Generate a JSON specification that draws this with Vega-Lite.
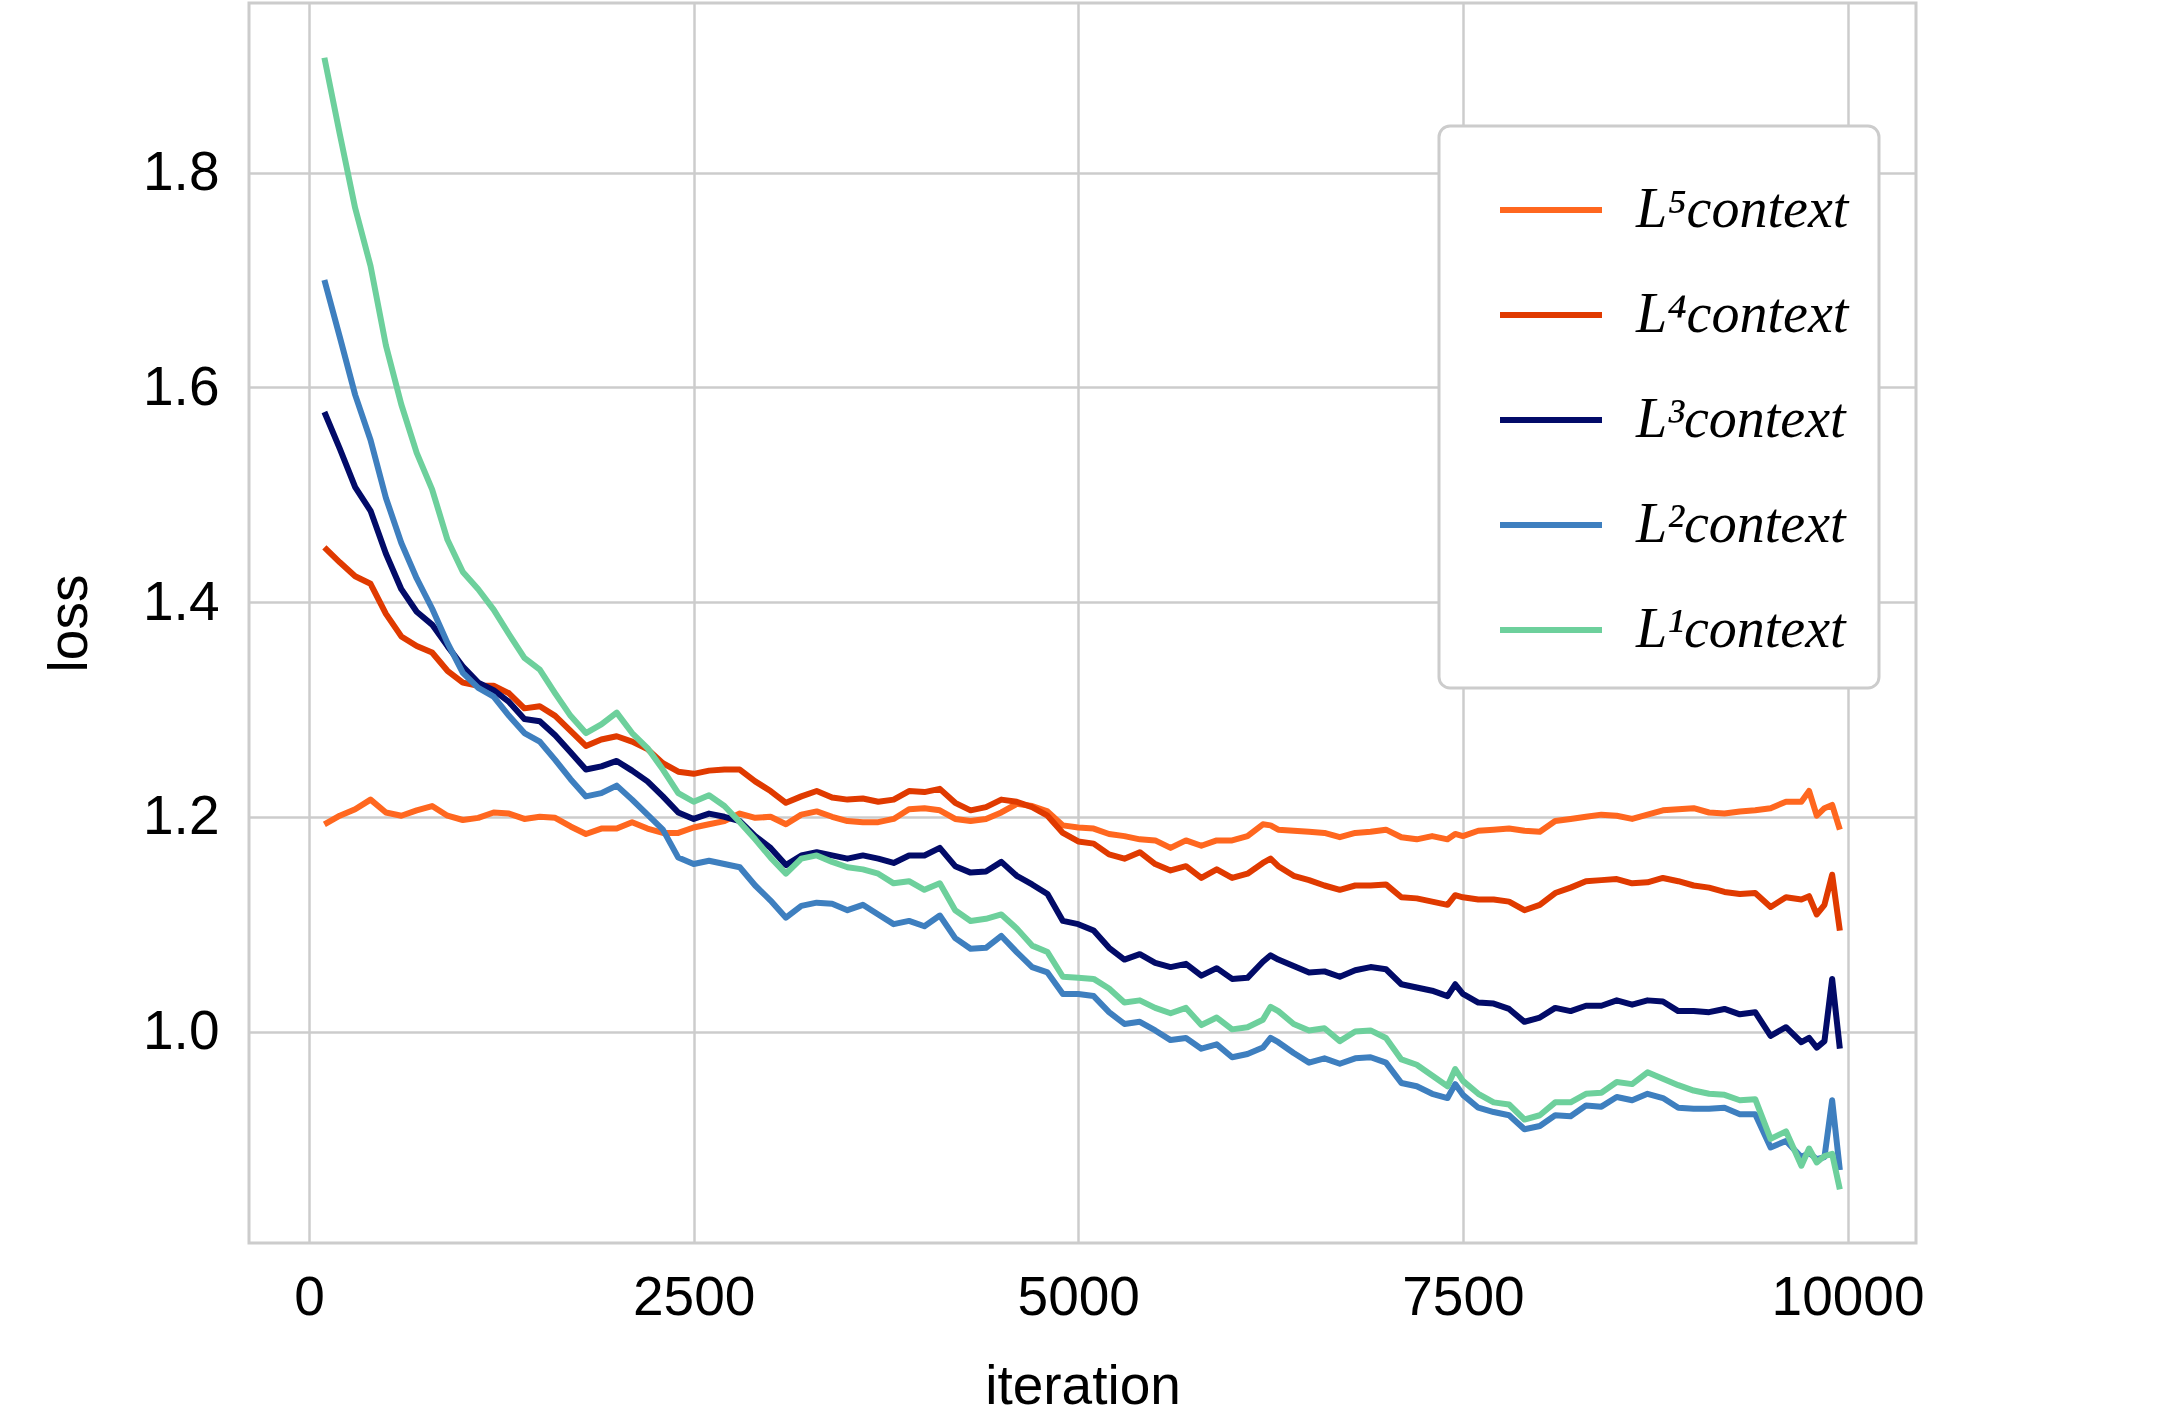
{
  "$schema": "https://vega.github.io/schema/vega-lite/v6.json",
  "width": 1667,
  "height": 1240,
  "autosize": {"type": "none"},
  "padding": {"left": 249, "top": 3, "right": 252, "bottom": 172},
  "background": "white",
  "config": {
    "view": {"stroke": "#cccccc", "strokeWidth": 3},
    "axis": {
      "gridColor": "#cccccc",
      "gridWidth": 2.5,
      "domain": false,
      "ticks": false,
      "labelFont": "Liberation Sans",
      "labelFontSize": 55,
      "labelColor": "black",
      "titleFont": "Liberation Sans",
      "titleFontSize": 55,
      "titleFontWeight": "normal",
      "titleColor": "black"
    },
    "legend": {"strokeWidth": 3}
  },
  "data": {
    "values": [
      {"i": 100, "L5": 1.193, "L4": 1.451, "L3": 1.577, "L2": 1.700, "L1": 1.907},
      {"i": 200, "L5": 1.201, "L4": 1.437, "L3": 1.543, "L2": 1.647, "L1": 1.836},
      {"i": 300, "L5": 1.207, "L4": 1.424, "L3": 1.507, "L2": 1.593, "L1": 1.767},
      {"i": 400, "L5": 1.216, "L4": 1.417, "L3": 1.485, "L2": 1.551, "L1": 1.713},
      {"i": 500, "L5": 1.204, "L4": 1.389, "L3": 1.445, "L2": 1.497, "L1": 1.639},
      {"i": 600, "L5": 1.201, "L4": 1.368, "L3": 1.412, "L2": 1.455, "L1": 1.584},
      {"i": 700, "L5": 1.206, "L4": 1.359, "L3": 1.391, "L2": 1.422, "L1": 1.539},
      {"i": 800, "L5": 1.210, "L4": 1.353, "L3": 1.379, "L2": 1.394, "L1": 1.505},
      {"i": 900, "L5": 1.201, "L4": 1.336, "L3": 1.359, "L2": 1.362, "L1": 1.458},
      {"i": 1000, "L5": 1.197, "L4": 1.325, "L3": 1.340, "L2": 1.334, "L1": 1.428},
      {"i": 1100, "L5": 1.199, "L4": 1.322, "L3": 1.325, "L2": 1.320, "L1": 1.412},
      {"i": 1200, "L5": 1.204, "L4": 1.322, "L3": 1.318, "L2": 1.312, "L1": 1.393},
      {"i": 1300, "L5": 1.203, "L4": 1.315, "L3": 1.307, "L2": 1.294, "L1": 1.370},
      {"i": 1400, "L5": 1.198, "L4": 1.301, "L3": 1.291, "L2": 1.278, "L1": 1.348},
      {"i": 1500, "L5": 1.200, "L4": 1.303, "L3": 1.289, "L2": 1.270, "L1": 1.337},
      {"i": 1600, "L5": 1.199, "L4": 1.294, "L3": 1.276, "L2": 1.253, "L1": 1.315},
      {"i": 1700, "L5": 1.191, "L4": 1.280, "L3": 1.260, "L2": 1.235, "L1": 1.294},
      {"i": 1800, "L5": 1.184, "L4": 1.266, "L3": 1.244, "L2": 1.219, "L1": 1.278},
      {"i": 1900, "L5": 1.189, "L4": 1.272, "L3": 1.247, "L2": 1.222, "L1": 1.286},
      {"i": 2000, "L5": 1.189, "L4": 1.275, "L3": 1.252, "L2": 1.229, "L1": 1.297},
      {"i": 2100, "L5": 1.195, "L4": 1.270, "L3": 1.243, "L2": 1.216, "L1": 1.278},
      {"i": 2200, "L5": 1.189, "L4": 1.263, "L3": 1.233, "L2": 1.202, "L1": 1.264},
      {"i": 2300, "L5": 1.185, "L4": 1.250, "L3": 1.219, "L2": 1.188, "L1": 1.244},
      {"i": 2400, "L5": 1.185, "L4": 1.242, "L3": 1.204, "L2": 1.162, "L1": 1.222},
      {"i": 2500, "L5": 1.190, "L4": 1.240, "L3": 1.198, "L2": 1.156, "L1": 1.214},
      {"i": 2600, "L5": 1.193, "L4": 1.243, "L3": 1.203, "L2": 1.159, "L1": 1.220},
      {"i": 2700, "L5": 1.196, "L4": 1.244, "L3": 1.200, "L2": 1.156, "L1": 1.210},
      {"i": 2800, "L5": 1.203, "L4": 1.244, "L3": 1.196, "L2": 1.153, "L1": 1.195},
      {"i": 2900, "L5": 1.199, "L4": 1.233, "L3": 1.182, "L2": 1.136, "L1": 1.179},
      {"i": 3000, "L5": 1.200, "L4": 1.224, "L3": 1.171, "L2": 1.122, "L1": 1.162},
      {"i": 3100, "L5": 1.193, "L4": 1.213, "L3": 1.155, "L2": 1.106, "L1": 1.147},
      {"i": 3200, "L5": 1.202, "L4": 1.219, "L3": 1.164, "L2": 1.117, "L1": 1.161},
      {"i": 3300, "L5": 1.205, "L4": 1.224, "L3": 1.167, "L2": 1.120, "L1": 1.164},
      {"i": 3400, "L5": 1.200, "L4": 1.218, "L3": 1.164, "L2": 1.119, "L1": 1.158},
      {"i": 3500, "L5": 1.196, "L4": 1.216, "L3": 1.161, "L2": 1.113, "L1": 1.153},
      {"i": 3600, "L5": 1.195, "L4": 1.217, "L3": 1.164, "L2": 1.118, "L1": 1.151},
      {"i": 3700, "L5": 1.195, "L4": 1.214, "L3": 1.161, "L2": 1.109, "L1": 1.147},
      {"i": 3800, "L5": 1.198, "L4": 1.216, "L3": 1.157, "L2": 1.100, "L1": 1.138},
      {"i": 3900, "L5": 1.207, "L4": 1.224, "L3": 1.164, "L2": 1.103, "L1": 1.140},
      {"i": 4000, "L5": 1.208, "L4": 1.223, "L3": 1.164, "L2": 1.098, "L1": 1.132},
      {"i": 4100, "L5": 1.206, "L4": 1.226, "L3": 1.171, "L2": 1.108, "L1": 1.138},
      {"i": 4200, "L5": 1.198, "L4": 1.213, "L3": 1.154, "L2": 1.087, "L1": 1.113},
      {"i": 4300, "L5": 1.196, "L4": 1.206, "L3": 1.148, "L2": 1.077, "L1": 1.103},
      {"i": 4400, "L5": 1.198, "L4": 1.209, "L3": 1.149, "L2": 1.078, "L1": 1.105},
      {"i": 4500, "L5": 1.204, "L4": 1.216, "L3": 1.158, "L2": 1.089, "L1": 1.109},
      {"i": 4600, "L5": 1.212, "L4": 1.214, "L3": 1.145, "L2": 1.074, "L1": 1.096},
      {"i": 4700, "L5": 1.210, "L4": 1.209, "L3": 1.137, "L2": 1.060, "L1": 1.080},
      {"i": 4800, "L5": 1.205, "L4": 1.201, "L3": 1.128, "L2": 1.055, "L1": 1.074},
      {"i": 4900, "L5": 1.192, "L4": 1.185, "L3": 1.103, "L2": 1.035, "L1": 1.051},
      {"i": 5000, "L5": 1.190, "L4": 1.177, "L3": 1.100, "L2": 1.035, "L1": 1.050},
      {"i": 5100, "L5": 1.189, "L4": 1.175, "L3": 1.094, "L2": 1.033, "L1": 1.049},
      {"i": 5200, "L5": 1.184, "L4": 1.165, "L3": 1.078, "L2": 1.018, "L1": 1.040},
      {"i": 5300, "L5": 1.182, "L4": 1.161, "L3": 1.067, "L2": 1.007, "L1": 1.027},
      {"i": 5400, "L5": 1.179, "L4": 1.167, "L3": 1.072, "L2": 1.009, "L1": 1.029},
      {"i": 5500, "L5": 1.178, "L4": 1.156, "L3": 1.064, "L2": 1.001, "L1": 1.022},
      {"i": 5600, "L5": 1.171, "L4": 1.150, "L3": 1.060, "L2": 0.992, "L1": 1.017},
      {"i": 5700, "L5": 1.178, "L4": 1.154, "L3": 1.063, "L2": 0.994, "L1": 1.022},
      {"i": 5800, "L5": 1.173, "L4": 1.143, "L3": 1.052, "L2": 0.984, "L1": 1.006},
      {"i": 5900, "L5": 1.178, "L4": 1.151, "L3": 1.059, "L2": 0.988, "L1": 1.013},
      {"i": 6000, "L5": 1.178, "L4": 1.143, "L3": 1.049, "L2": 0.976, "L1": 1.002},
      {"i": 6100, "L5": 1.182, "L4": 1.147, "L3": 1.050, "L2": 0.979, "L1": 1.004},
      {"i": 6200, "L5": 1.193, "L4": 1.157, "L3": 1.065, "L2": 0.985, "L1": 1.011},
      {"i": 6250, "L5": 1.192, "L4": 1.161, "L3": 1.071, "L2": 0.994, "L1": 1.023},
      {"i": 6300, "L5": 1.188, "L4": 1.154, "L3": 1.067, "L2": 0.990, "L1": 1.019},
      {"i": 6400, "L5": 1.187, "L4": 1.145, "L3": 1.061, "L2": 0.980, "L1": 1.007},
      {"i": 6500, "L5": 1.186, "L4": 1.141, "L3": 1.055, "L2": 0.971, "L1": 1.001},
      {"i": 6600, "L5": 1.185, "L4": 1.136, "L3": 1.056, "L2": 0.975, "L1": 1.003},
      {"i": 6700, "L5": 1.181, "L4": 1.132, "L3": 1.051, "L2": 0.970, "L1": 0.991},
      {"i": 6800, "L5": 1.185, "L4": 1.136, "L3": 1.057, "L2": 0.975, "L1": 1.000},
      {"i": 6900, "L5": 1.186, "L4": 1.136, "L3": 1.060, "L2": 0.976, "L1": 1.001},
      {"i": 7000, "L5": 1.188, "L4": 1.137, "L3": 1.058, "L2": 0.971, "L1": 0.994},
      {"i": 7100, "L5": 1.181, "L4": 1.125, "L3": 1.044, "L2": 0.952, "L1": 0.974},
      {"i": 7200, "L5": 1.179, "L4": 1.124, "L3": 1.041, "L2": 0.949, "L1": 0.969},
      {"i": 7300, "L5": 1.182, "L4": 1.121, "L3": 1.038, "L2": 0.942, "L1": 0.959},
      {"i": 7400, "L5": 1.179, "L4": 1.118, "L3": 1.033, "L2": 0.938, "L1": 0.949},
      {"i": 7450, "L5": 1.184, "L4": 1.127, "L3": 1.044, "L2": 0.951, "L1": 0.965},
      {"i": 7500, "L5": 1.182, "L4": 1.125, "L3": 1.035, "L2": 0.941, "L1": 0.954},
      {"i": 7600, "L5": 1.187, "L4": 1.123, "L3": 1.027, "L2": 0.929, "L1": 0.942},
      {"i": 7700, "L5": 1.188, "L4": 1.123, "L3": 1.026, "L2": 0.925, "L1": 0.934},
      {"i": 7800, "L5": 1.189, "L4": 1.121, "L3": 1.021, "L2": 0.922, "L1": 0.932},
      {"i": 7900, "L5": 1.187, "L4": 1.113, "L3": 1.009, "L2": 0.909, "L1": 0.918},
      {"i": 8000, "L5": 1.186, "L4": 1.118, "L3": 1.013, "L2": 0.912, "L1": 0.922},
      {"i": 8100, "L5": 1.196, "L4": 1.129, "L3": 1.022, "L2": 0.922, "L1": 0.934},
      {"i": 8200, "L5": 1.198, "L4": 1.134, "L3": 1.019, "L2": 0.921, "L1": 0.934},
      {"i": 8300, "L5": 1.200, "L4": 1.140, "L3": 1.024, "L2": 0.931, "L1": 0.942},
      {"i": 8400, "L5": 1.202, "L4": 1.141, "L3": 1.024, "L2": 0.930, "L1": 0.943},
      {"i": 8500, "L5": 1.201, "L4": 1.142, "L3": 1.029, "L2": 0.939, "L1": 0.953},
      {"i": 8600, "L5": 1.198, "L4": 1.138, "L3": 1.025, "L2": 0.936, "L1": 0.951},
      {"i": 8700, "L5": 1.202, "L4": 1.139, "L3": 1.029, "L2": 0.942, "L1": 0.962},
      {"i": 8800, "L5": 1.206, "L4": 1.143, "L3": 1.028, "L2": 0.938, "L1": 0.956},
      {"i": 8900, "L5": 1.207, "L4": 1.140, "L3": 1.019, "L2": 0.929, "L1": 0.950},
      {"i": 9000, "L5": 1.208, "L4": 1.136, "L3": 1.019, "L2": 0.928, "L1": 0.945},
      {"i": 9100, "L5": 1.204, "L4": 1.134, "L3": 1.018, "L2": 0.928, "L1": 0.942},
      {"i": 9200, "L5": 1.203, "L4": 1.130, "L3": 1.021, "L2": 0.929, "L1": 0.941},
      {"i": 9300, "L5": 1.205, "L4": 1.128, "L3": 1.016, "L2": 0.923, "L1": 0.936},
      {"i": 9400, "L5": 1.206, "L4": 1.129, "L3": 1.018, "L2": 0.923, "L1": 0.937},
      {"i": 9500, "L5": 1.208, "L4": 1.116, "L3": 0.996, "L2": 0.892, "L1": 0.900},
      {"i": 9600, "L5": 1.214, "L4": 1.125, "L3": 1.004, "L2": 0.898, "L1": 0.907},
      {"i": 9700, "L5": 1.214, "L4": 1.123, "L3": 0.990, "L2": 0.883, "L1": 0.875},
      {"i": 9750, "L5": 1.224, "L4": 1.126, "L3": 0.994, "L2": 0.887, "L1": 0.891},
      {"i": 9800, "L5": 1.201, "L4": 1.109, "L3": 0.985, "L2": 0.881, "L1": 0.878},
      {"i": 9850, "L5": 1.208, "L4": 1.118, "L3": 0.991, "L2": 0.883, "L1": 0.884},
      {"i": 9900, "L5": 1.211, "L4": 1.146, "L3": 1.049, "L2": 0.936, "L1": 0.886},
      {"i": 9950, "L5": 1.188, "L4": 1.094, "L3": 0.984, "L2": 0.871, "L1": 0.853}
    ]
  },
  "transform": [{"fold": ["L5", "L4", "L3", "L2", "L1"], "as": ["s", "v"]}],
  "mark": {"type": "line", "strokeWidth": 6, "strokeJoin": "round"},
  "encoding": {
    "x": {
      "field": "i",
      "type": "quantitative",
      "scale": {"domain": [-390, 10445], "nice": false, "zero": false},
      "axis": {"values": [0, 2500, 5000, 7500, 10000], "format": "d", "title": "iteration", "labelPadding": 28, "titlePadding": 35}
    },
    "y": {
      "field": "v",
      "type": "quantitative",
      "scale": {"domain": [0.803, 1.958], "nice": false, "zero": false},
      "axis": {"values": [1.0, 1.2, 1.4, 1.6, 1.8], "format": ".1f", "title": "loss", "labelPadding": 30, "titlePadding": 44}
    },
    "color": {
      "field": "s",
      "type": "nominal",
      "scale": {"domain": ["L5", "L4", "L3", "L2", "L1"], "range": ["#ff671f", "#e03a00", "#020b68", "#3e7fbf", "#6dd09c"]},
      "legend": {
        "orient": "none",
        "legendX": 1190,
        "legendY": 123,
        "title": null,
        "symbolType": "stroke",
        "symbolSize": 10404,
        "symbolStrokeWidth": 6,
        "symbolOffset": 28,
        "labelOffset": 31,
        "labelFont": "Liberation Serif",
        "labelFontStyle": "italic",
        "labelFontSize": 56,
        "labelLimit": 500,
        "labelColor": "black",
        "labelExpr": "{'L5': 'L⁵context', 'L4': 'L⁴context', 'L3': 'L³context', 'L2': 'L²context', 'L1': 'L¹context'}[datum.label]",
        "rowPadding": 23,
        "padding": 30,
        "fillColor": "white",
        "strokeColor": "#cccccc",
        "cornerRadius": 11
      }
    }
  }
}
